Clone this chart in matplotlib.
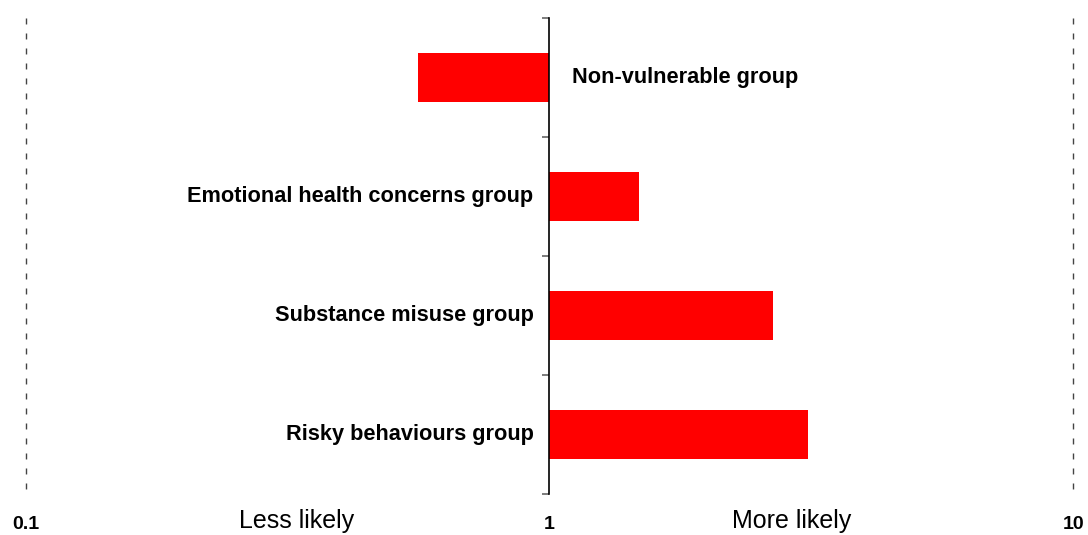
import matplotlib
matplotlib.use("Agg")
import matplotlib.pyplot as plt
import numpy as np

# ===== DATA =====
groups = ["Non-vulnerable group", "Emotional health concerns group",
          "Substance misuse group", "Risky behaviours group"]
odds_ratio = [0.56, 1.48, 2.67, 3.11]
x_ticks = [0.1, 1, 10]
x_tick_labels = ["0.1", "1", "10"]
side_labels = ["Less likely", "More likely"]

NARROW = ["Liberation Sans Narrow", "Liberation Sans", "DejaVu Sans"]
ARIAL = ["Liberation Sans", "DejaVu Sans"]

fig = plt.figure(figsize=(10.88, 5.35), dpi=100)
ax = fig.add_axes([25.7 / 1088, 41 / 535, 1047.6 / 1088, 476 / 535])

ypos = np.arange(len(groups))
widths = [v - 1 for v in odds_ratio]
ax.barh(ypos, widths, left=1, height=0.41, color="#ff0000", zorder=2)

ax.set_xscale("log")
ax.set_xlim(0.1, 10)
ax.set_ylim(len(groups) - 0.5, -0.5)

# reference lines at the outer limits
for xv in (x_ticks[0], x_ticks[-1]):
    ax.plot([xv, xv], [-0.5, len(groups) - 0.52], color="#444444", lw=1,
            dashes=(4.3, 6.5), clip_on=False)

# central axis at 1
for s in ("top", "right", "bottom"):
    ax.spines[s].set_visible(False)
ax.spines["left"].set_position(("data", 1))
ax.spines["left"].set_color("black")
ax.spines["left"].set_linewidth(1.2)
ax.set_yticks(np.arange(-0.5, len(groups), 1.0))
ax.set_yticklabels([])
ax.tick_params(axis="y", length=5, width=1.2, color="#666666", direction="out")

ax.set_xticks(x_ticks)
ax.set_xticks([], minor=True)
ax.set_xticklabels(x_tick_labels, fontfamily=ARIAL, fontweight="bold", fontsize=14)
ax.tick_params(axis="x", length=0, pad=16)

# category labels next to the bars
for y, g, v in zip(ypos, groups, odds_ratio):
    if v < 1:
        ax.annotate(g, (1, y), xytext=(16, 0), textcoords="offset points",
                    ha="left", va="center", fontfamily=NARROW,
                    fontweight="bold", fontsize=15.7)
    else:
        ax.annotate(g, (1, y), xytext=(-11.5, 0), textcoords="offset points",
                    ha="right", va="center", fontfamily=NARROW,
                    fontweight="bold", fontsize=15.7)

trans = ax.get_xaxis_transform()
ax.text(10 ** -0.483, -0.071, side_labels[0], transform=trans, ha="center",
        va="baseline", fontfamily=ARIAL, fontsize=18)
ax.text(10 ** 0.462, -0.071, side_labels[1], transform=trans, ha="center",
        va="baseline", fontfamily=ARIAL, fontsize=18)

fig.savefig("out.png", dpi=100)
